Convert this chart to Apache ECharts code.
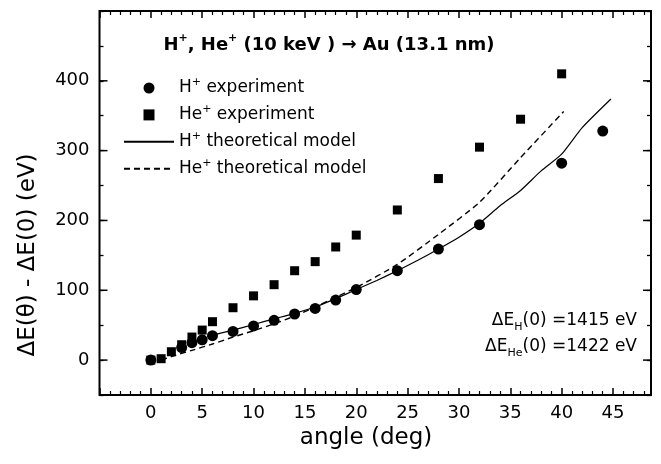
<!DOCTYPE html>
<html>
<head>
<meta charset="utf-8">
<script src="https://cdn.jsdelivr.net/npm/echarts@6/dist/echarts.min.js"></script>
<style>
  html, body { margin: 0; padding: 0; background: #fff; }
  #chart { width: 661px; height: 464px; }
</style>
</head>
<body>
<div id="chart"></div>
<script>
// H+ experiment (circles)
const hExpAngle = [0, 3, 4, 5, 6, 8, 10, 12, 14, 16, 18, 20, 24, 28, 32, 40, 44];
const hExpDE = [0, 18, 25, 29, 35, 41, 49, 57, 66, 74, 86, 101, 128, 159, 194, 282, 328];

// He+ experiment (squares)
const heExpAngle = [0, 1, 2, 3, 4, 5, 6, 8, 10, 12, 14, 16, 18, 20, 24, 28, 32, 36, 40];
const heExpDE = [0, 2, 12, 22, 33, 43, 55, 75, 92, 108, 128, 141, 162, 179, 215, 260, 305, 345, 410];

// H+ theoretical model (solid)
const hModelAngle = [5.5, 8, 10, 12, 14, 16, 18, 20, 22, 24, 26, 28, 30, 32, 34, 36, 38, 40, 42, 44.8];
const hModelDE = [34, 43, 51, 59, 67, 76, 88, 101, 114, 128, 143, 159, 176, 196, 221, 243, 271, 295, 333, 374];

// He+ theoretical model (dashed)
const heModelAngle = [1, 2, 4, 6, 8, 10, 12, 14, 16, 18, 20, 24, 28, 32, 36, 40.2];
const heModelDE = [0, 5, 14, 23, 33, 42, 52, 63, 76, 90, 104, 137, 180, 226, 290, 356];

const yMajorTicks = [0, 100, 200, 300, 400];

const X_MIN = -5;
const X_MAX = 48.7;

const FONT = '"DejaVu Sans", sans-serif';

const pairs = (xs, ys) => xs.map((x, i) => [x, ys[i]]);

// the frame is the grid border, axes only carry ticks and labels
const grid = {
    show: true,
    left: 99.5,
    right: 10,
    top: 11,
    bottom: 69,
    borderColor: '#000',
    borderWidth: 2,
    backgroundColor: 'transparent',
};

function xAxisAt(position, showLabels) {
    return {
        type: 'value',
        position,
        min: X_MIN,
        max: X_MAX,
        interval: 5,
        axisLine: { show: false, onZero: false },
        axisTick: { show: true, inside: true, length: 7, lineStyle: { color: '#000', width: 1.5 } },
        minorTick: { show: true, splitNumber: 5, length: 4, lineStyle: { color: '#000', width: 1.2 } },
        splitLine: { show: false },
        minorSplitLine: { show: false },
        axisLabel: {
            show: showLabels,
            margin: 9,
            showMinLabel: false,
            showMaxLabel: false,
            fontSize: 18,
            fontFamily: FONT,
            color: '#000',
        },
    };
}

// a short tick every 50 eV, labels only on the hundreds
function yAxisAt(position, showLabels) {
    return {
        type: 'value',
        position,
        min: -50,
        max: 500,
        interval: 50,
        axisLine: { show: false, onZero: false },
        axisTick: { show: true, inside: true, length: 4, lineStyle: { color: '#000', width: 1.3 } },
        axisLabel: showLabels
            ? { show: true, customValues: yMajorTicks.slice(), margin: 10, fontSize: 18, fontFamily: FONT, color: '#000' }
            : { show: false },
        splitLine: { show: false },
    };
}

// long ticks on the hundreds, on both sides of the frame
function renderMajorTick(params, api) {
    const v = api.value(0);
    const left = api.coord([X_MIN, v]);
    const right = api.coord([X_MAX, v]);
    const style = { stroke: '#000', lineWidth: 1.5 };
    return {
        type: 'group',
        children: [
            { type: 'line', shape: { x1: left[0], y1: left[1], x2: left[0] + 8, y2: left[1] }, style },
            { type: 'line', shape: { x1: right[0], y1: right[1], x2: right[0] - 8, y2: right[1] }, style },
        ],
    };
}

const legendNames = {
    'H+ experiment': '{t|H}{sup|+}{t| experiment}',
    'He+ experiment': '{t|He}{sup|+}{t| experiment}',
    'H+ theoretical model': '{t|H}{sup|+}{t| theoretical model}',
    'He+ theoretical model': '{t|He}{sup|+}{t| theoretical model}',
};

const supRich = {
    t: { fontSize: 17, fontFamily: FONT, color: '#000', lineHeight: 22, verticalAlign: 'middle' },
    sup: { fontSize: 11, fontFamily: FONT, color: '#000', lineHeight: 12, verticalAlign: 'top' },
    b: { fontSize: 18, fontFamily: FONT, fontWeight: 'bold', color: '#000', lineHeight: 24, verticalAlign: 'middle' },
    bsup: { fontSize: 11, fontFamily: FONT, fontWeight: 'bold', color: '#000', lineHeight: 12, verticalAlign: 'top' },
    n: { fontSize: 17, fontFamily: FONT, color: '#000', lineHeight: 24, verticalAlign: 'middle' },
    sub: { fontSize: 11, fontFamily: FONT, color: '#000', lineHeight: 12, verticalAlign: 'bottom' },
};

const hiddenSymbol = { color: 'rgba(0,0,0,0)', opacity: 0 };

const option = {
    animation: false,
    backgroundColor: '#fff',
    grid,
    xAxis: [xAxisAt('bottom', true), xAxisAt('top', false)],
    yAxis: [yAxisAt('left', true), yAxisAt('right', false)],
    legend: {
        orient: 'vertical',
        left: 123,
        top: 77,
        padding: 0,
        itemWidth: 50,
        itemHeight: 11,
        itemGap: 7.4,
        selectedMode: false,
        formatter: (name) => legendNames[name],
        textStyle: { rich: supRich },
        data: [
            { name: 'H+ experiment' },
            { name: 'He+ experiment', icon: 'path://M0,0L10,0L10,10L0,10Z' },
            { name: 'H+ theoretical model', itemStyle: hiddenSymbol },
            { name: 'He+ theoretical model', itemStyle: hiddenSymbol },
        ],
    },
    series: [
        {
            name: 'H+ experiment',
            type: 'scatter',
            symbol: 'circle',
            symbolSize: 11,
            itemStyle: { color: '#000', opacity: 1 },
            data: pairs(hExpAngle, hExpDE),
            z: 5,
        },
        {
            name: 'He+ experiment',
            type: 'scatter',
            symbol: 'rect',
            symbolSize: 9,
            itemStyle: { color: '#000', opacity: 1 },
            data: pairs(heExpAngle, heExpDE),
            z: 4,
        },
        {
            name: 'H+ theoretical model',
            type: 'line',
            showSymbol: false,
            symbol: 'none',
            smooth: 0.2,
            lineStyle: { color: '#000', width: 1.2, type: 'solid' },
            itemStyle: { color: '#000' },
            data: pairs(hModelAngle, hModelDE),
        },
        {
            name: 'He+ theoretical model',
            type: 'line',
            showSymbol: false,
            symbol: 'none',
            smooth: 0.2,
            lineStyle: { color: '#000', width: 1.4, type: [6, 4] },
            itemStyle: { color: '#000' },
            data: pairs(heModelAngle, heModelDE),
        },
        {
            name: 'major ticks',
            type: 'custom',
            renderItem: renderMajorTick,
            encode: { y: 0 },
            data: yMajorTicks.map((v) => [v]),
            silent: true,
            z: 10,
        },
    ],
    graphic: [
        {
            type: 'text',
            x: 329,
            y: 45,
            style: {
                text: '{b|H}{bsup|+}{b|, He}{bsup|+}{b| (10 keV ) → Au (13.1 nm)}',
                align: 'center',
                verticalAlign: 'middle',
                rich: supRich,
            },
        },
        {
            type: 'text',
            x: 637,
            y: 321,
            style: {
                text: '{n|ΔE}{sub|H}{n|(0) =1415 eV}',
                align: 'right',
                verticalAlign: 'middle',
                rich: supRich,
            },
        },
        {
            type: 'text',
            x: 637,
            y: 347,
            style: {
                text: '{n|ΔE}{sub|He}{n|(0) =1422 eV}',
                align: 'right',
                verticalAlign: 'middle',
                rich: supRich,
            },
        },
        {
            type: 'text',
            x: 366,
            y: 438,
            style: {
                text: 'angle (deg)',
                align: 'center',
                verticalAlign: 'middle',
                fontSize: 23,
                fontFamily: FONT,
                fill: '#000',
            },
        },
        {
            type: 'text',
            x: 28,
            y: 255,
            rotation: Math.PI / 2,
            style: {
                text: 'ΔE(θ) - ΔE(0) (eV)',
                align: 'center',
                verticalAlign: 'middle',
                fontSize: 23,
                fontFamily: FONT,
                fill: '#000',
            },
        },
    ],
};

const chart = echarts.init(document.getElementById('chart'), null, { renderer: 'canvas' });
chart.setOption(option);
</script>
</body>
</html>
